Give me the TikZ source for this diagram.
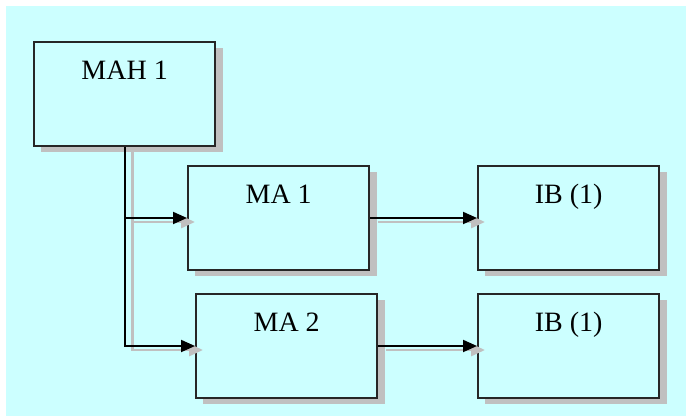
\documentclass[tikz,border=0pt]{standalone}
\usepackage{fontspec}
\setmainfont{Liberation Serif}
\usetikzlibrary{arrows.meta,shadows}

\definecolor{bgcyan}{RGB}{204,255,255}
\definecolor{shadowgray}{RGB}{192,192,192}

\tikzset{every picture/.style={line width=0.75pt}}
\tikzset{
  box/.style={draw=black!85, line width=1.5pt, fill=bgcyan, anchor=north west,
    inner sep=0pt, minimum width=136pt, text height=28.5pt, text depth=49.5pt,
    font=\fontsize{21}{25}\selectfont,
    general shadow={fill=shadowgray, shadow xshift=5.5pt, shadow yshift=-4.5pt}},
  conn/.style={draw=black, line width=1.4pt, -{Triangle[length=10.5pt,width=9pt]}},
  connshadow/.style={draw=shadowgray, line width=2.2pt, -{Triangle[length=10.5pt,width=9pt]},
    transform canvas={xshift=6pt,yshift=-3pt}}
}

\begin{document}
\begin{tikzpicture}[x=0.75pt,y=0.75pt,yscale=-1,xscale=1]
%set diagram to 686 x 416
\useasboundingbox (0,0) rectangle (686,416);
\fill [white] (0,0) rectangle (686,416);
%Shape: Rectangle (background)
\fill [bgcyan] (6,6) rectangle (686,416);

%Shape: Rectangle
\node [box] (mah) at (33,41) {MAH 1};
%Shape: Rectangle
\node [box] (maone) at (187,165) {MA 1};
%Shape: Rectangle
\node [box] (matwo) at (195,293) {MA 2};
%Shape: Rectangle
\node [box] (ibone) at (477,165) {IB (1)};
%Shape: Rectangle
\node [box] (ibtwo) at (477,293) {IB (1)};

%Connector shadows
\draw [connshadow] (mah.south) |- (maone.west);
\draw [connshadow] (mah.south) |- (matwo.west);
\draw [connshadow] (maone.east) -- (ibone.west);
\draw [connshadow] (matwo.east) -- (ibtwo.west);

%Straight Lines
\draw [conn] (mah.south) |- (maone.west);
%Straight Lines
\draw [conn] (mah.south) |- (matwo.west);
%Straight Lines
\draw [conn] (maone.east) -- (ibone.west);
%Straight Lines
\draw [conn] (matwo.east) -- (ibtwo.west);
\end{tikzpicture}
\end{document}
